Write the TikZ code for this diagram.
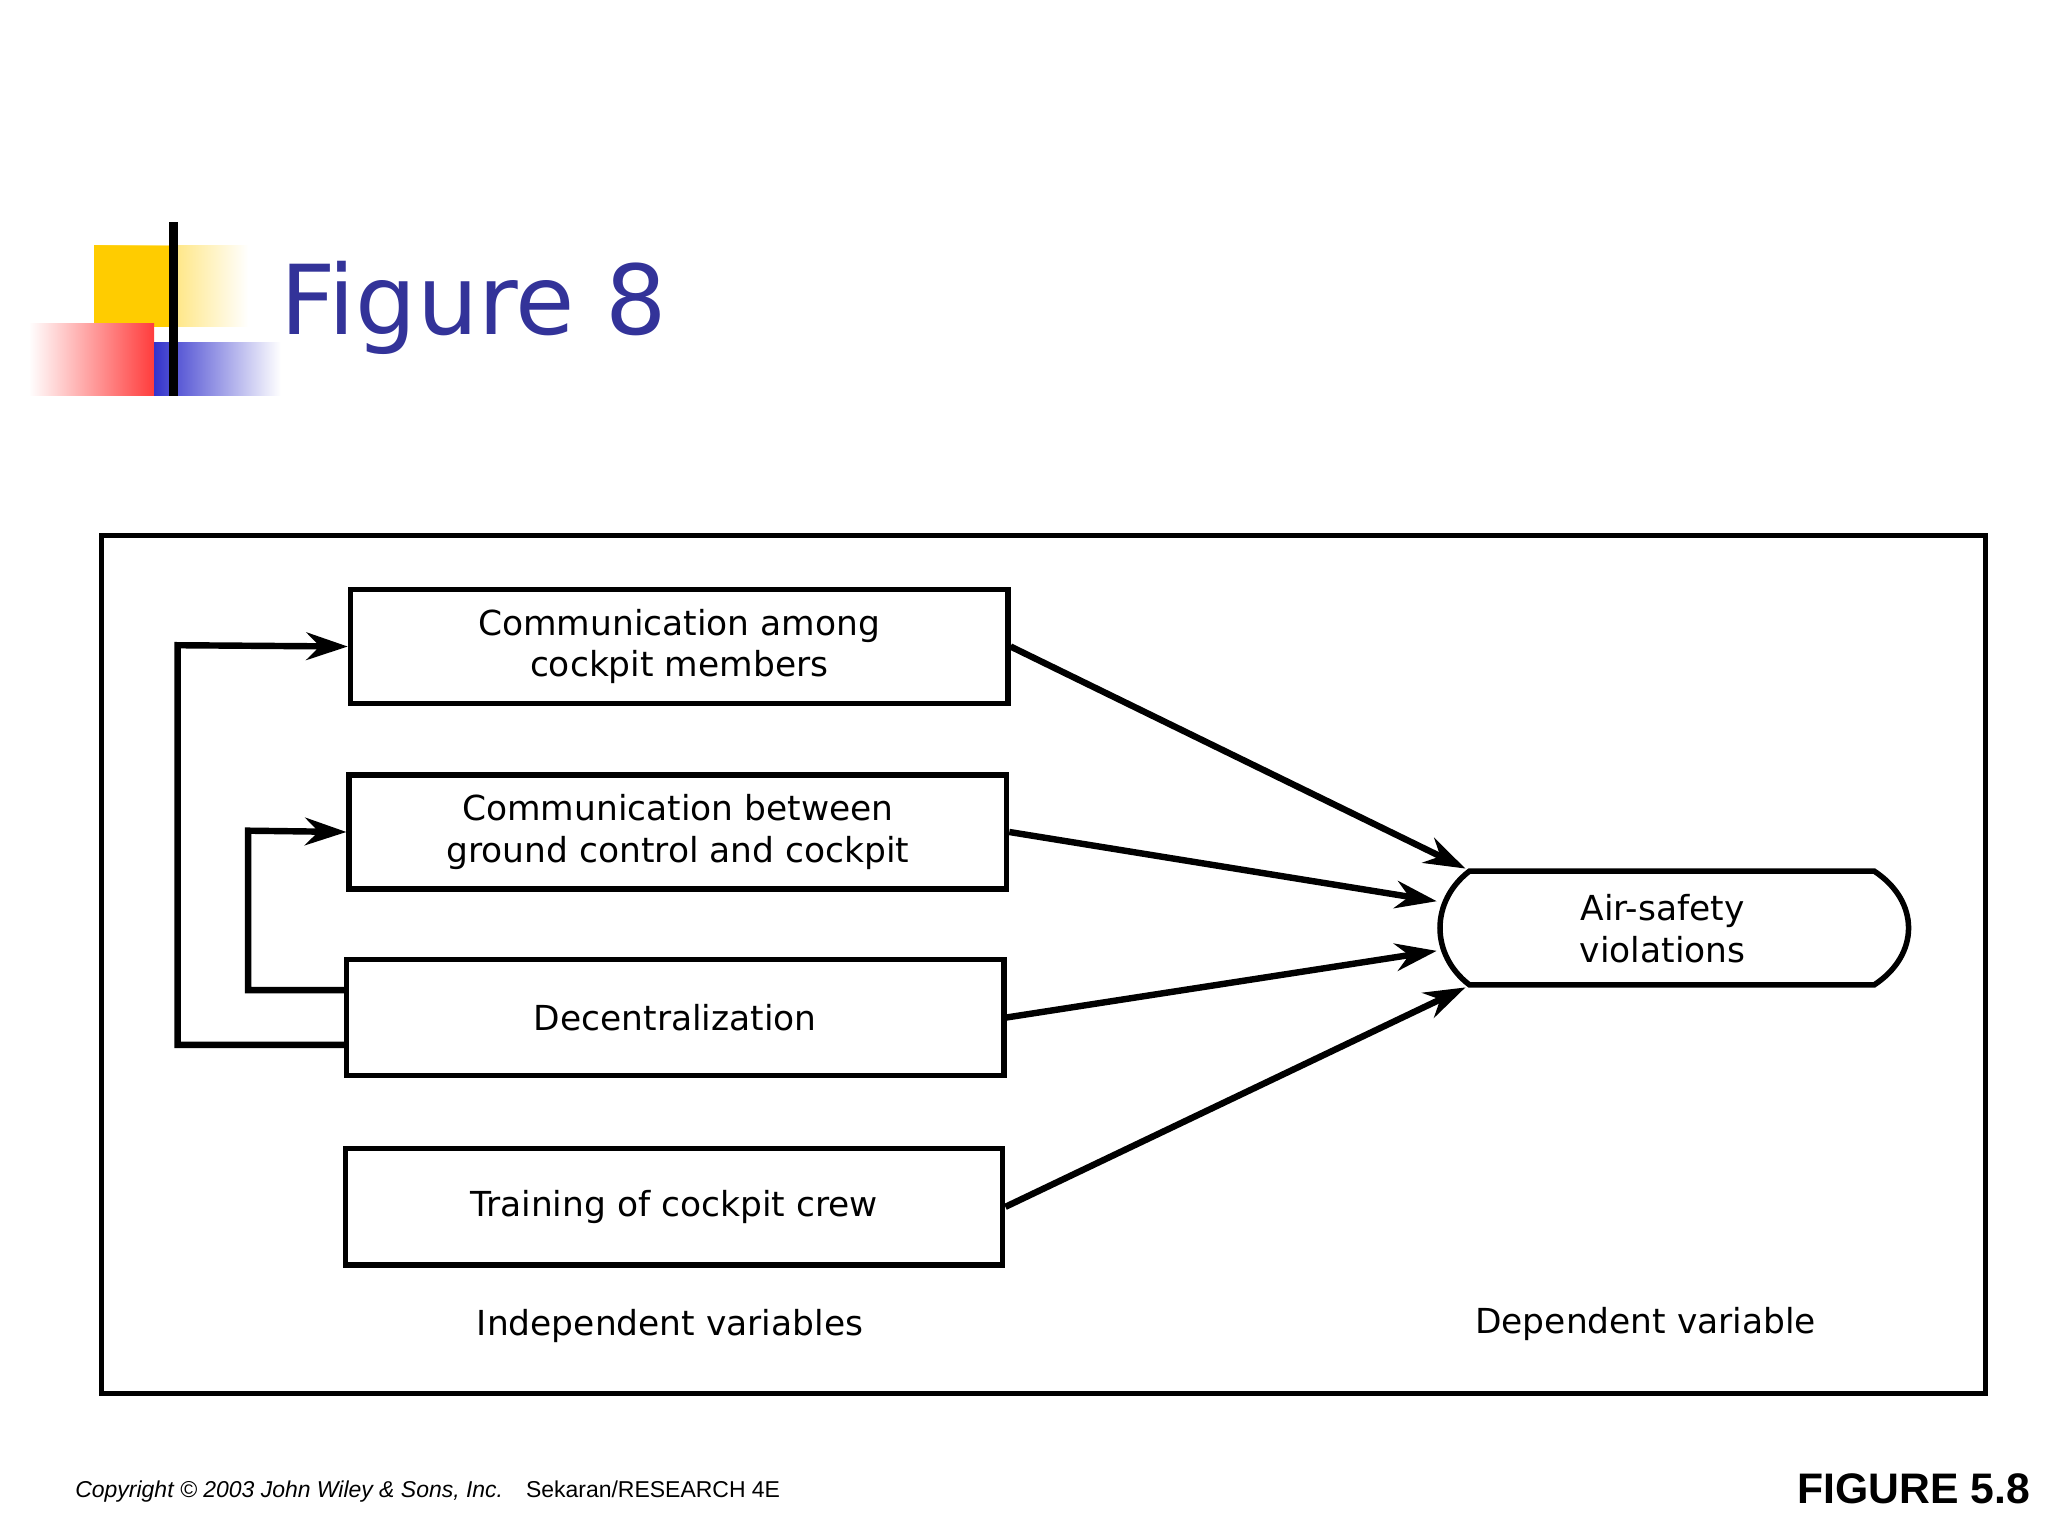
\documentclass[tikz,border=0pt]{standalone}
\usepackage{fontspec}
\setmainfont{DejaVu Sans}
\newfontfamily\lib{Liberation Sans}
\usetikzlibrary{arrows.meta}
\definecolor{ttl}{RGB}{51,51,153}
\definecolor{ylw}{RGB}{255,204,0}
\definecolor{rd}{RGB}{255,60,60}
\definecolor{bl}{RGB}{51,51,204}
\begin{document}
\begin{tikzpicture}[x=0.01cm,y=-0.01cm,
 box/.style={draw,line width=1.2pt,minimum width=5.03cm,minimum height=0.87cm,font=\fontsize{7.5}{9}\selectfont,align=center,inner sep=0pt},
 arr/.style={line width=1.4pt,-{Stealth[length=9pt,width=6pt]}},
 lbl/.style={font=\fontsize{7.5}{9}\selectfont}]
\useasboundingbox (0,0) rectangle (1568,1176);
% logo
\shade[left color=ylw,right color=white] (72,188) rectangle (190,250);
\fill[ylw] (72,188) rectangle (135,250);
\shade[left color=white,right color=rd] (22,248) rectangle (118,303);
\shade[left color=bl,right color=white] (118,262) rectangle (215,303);
\draw[line width=2pt] (133,170) -- (133,303);
\node[anchor=west,text=ttl,font=\fontsize{21}{24}\selectfont,inner sep=0pt] (t) at (214,236) {Figure 8};
% frame
\draw[line width=1.1pt] (78,410) rectangle (1520,1067);
\node[box] (b1) at (520,495) {Communication among\\cockpit members};
\node[box] (b2) at (519,637) {Communication between\\ground control and cockpit};
\node[box,minimum height=0.89cm] (b3) at (517,779) {Decentralization};
\node[box,minimum height=0.89cm] (b4) at (516,924) {Training of cockpit crew};
% dependent
\draw[line width=1.2pt] (1125,667) -- (1435,667) .. controls (1470,690) and (1470,731) .. (1435,754) -- (1125,754) .. controls (1095,731) and (1095,690) .. (1125,667) -- cycle;
\node[lbl,align=center] (dv) at (1273,711) {Air-safety\\violations};
\coordinate (d1) at (1122,665);
\coordinate (d2) at (1100,690);
\coordinate (d3) at (1100,728);
\coordinate (d4) at (1122,756);
\draw[arr] (b1.east) -- (d1);
\draw[arr] (b2.east) -- (d2);
\draw[arr] (b3.east) -- (d3);
\draw[arr] (b4.east) -- (d4);
\draw[arr] (b3.west |- 0,800) -- (136,800) -- (136,494) -- (b1.west);
\draw[arr] (b3.west |- 0,758) -- (190,758) -- (190,636) -- (b2.west);
\node[lbl] (iv) at (513,1015) {Independent variables};
\node[lbl] (dvl) at (1260,1014) {Dependent variable};
\node[anchor=west,font=\lib\itshape\fontsize{5}{6}\selectfont,inner sep=0pt] (c) at (57,1142) {Copyright © 2003 John Wiley \& Sons, Inc.\quad\upshape Sekaran/RESEARCH 4E};
\node[anchor=east,font=\lib\bfseries\fontsize{9.3}{10}\selectfont,inner sep=0pt] (f) at (1555,1140) {FIGURE 5.8};
\end{tikzpicture}
\end{document}
